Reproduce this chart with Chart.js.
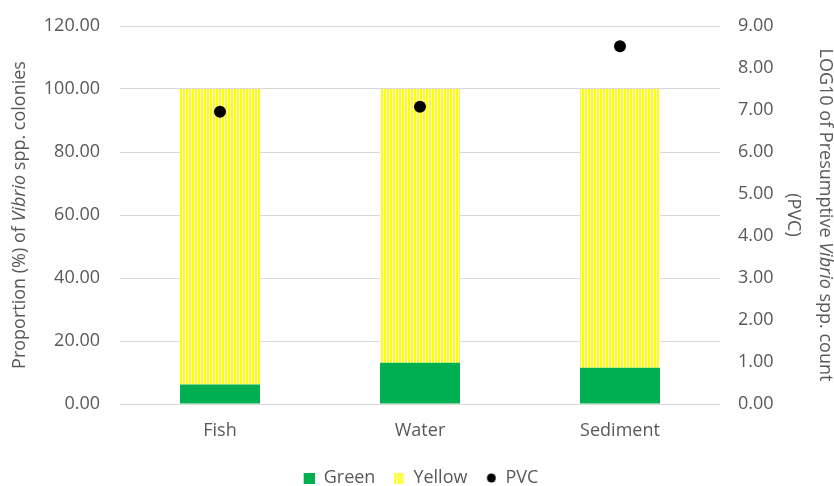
<!DOCTYPE html>
<html>
<head>
<meta charset="utf-8">
<script src="https://cdn.jsdelivr.net/npm/chart.js@4/dist/chart.umd.min.js"></script>
<style>
  html, body { margin: 0; padding: 0; background: #fff; }
  #wrap { width: 834px; height: 486px; }
</style>
</head>
<body>
<div id="wrap"><canvas id="chart"></canvas></div>
<script>
const CATEGORIES = ['Fish', 'Water', 'Sediment'];
const GREEN = [6.2, 13.1, 11.5];
const YELLOW = [93.8, 86.9, 88.5];
const PVC = [6.96, 7.08, 8.52];
const SERIES_NAMES = ['Green', 'Yellow', 'PVC'];

const LEFT_TITLE = [['Proportion (%) of ', false], ['Vibrio', true], [' spp. colonies', false]];
const RIGHT_TITLE_1 = [['LOG10 of Presumptive ', false], ['Vibrio', true], [' spp. count', false]];
const RIGHT_TITLE_2 = [['(PVC)', false]];

const TEXT_COLOR = '#595959';
const FONT = 'Open Sans';

// narrow vertical stripes for the Yellow series
function stripePattern() {
  const c = document.createElement('canvas');
  c.width = 3; c.height = 3;
  const g = c.getContext('2d');
  g.fillStyle = '#ffffff';
  g.fillRect(0, 0, 3, 3);
  g.fillStyle = '#ffff00';
  g.fillRect(0, 0, 2, 3);
  return g.createPattern(c, 'repeat');
}

function icon(w, h, draw) {
  const c = document.createElement('canvas');
  c.width = w; c.height = h;
  draw(c.getContext('2d'));
  return c;
}

const yellowFill = stripePattern();
// icons sit at the right of a 19px box so the gap to the previous item is wider
const legendIcons = [
  icon(19, 11, g => { g.fillStyle = '#00b050'; g.fillRect(8, 0, 11, 11); }),
  icon(19, 11, g => { g.fillStyle = yellowFill; g.fillRect(8, 0, 11, 11); }),
  icon(19, 10, g => { g.fillStyle = '#000'; g.beginPath(); g.arc(14, 5, 4.5, 0, Math.PI * 2); g.fill(); }),
];

function drawRich(ctx, parts, size) {
  let total = 0;
  const widths = parts.map(([t, it]) => {
    ctx.font = (it ? 'italic ' : '') + size + 'px "' + FONT + '"';
    const w = ctx.measureText(t).width;
    total += w;
    return w;
  });
  let x = -total / 2;
  parts.forEach(([t, it], i) => {
    ctx.font = (it ? 'italic ' : '') + size + 'px "' + FONT + '"';
    ctx.fillText(t, x, 0);
    x += widths[i];
  });
}

const axisTitles = {
  id: 'axisTitles',
  afterDraw(chart) {
    const { ctx, chartArea } = chart;
    const cy = (chartArea.top + chartArea.bottom) / 2;
    ctx.save();
    ctx.fillStyle = TEXT_COLOR;
    ctx.textAlign = 'left';
    ctx.textBaseline = 'middle';

    ctx.save();
    ctx.translate(chartArea.left - 100, cy);
    ctx.rotate(-Math.PI / 2);
    drawRich(ctx, LEFT_TITLE, 18);
    ctx.restore();

    ctx.save();
    ctx.translate(chartArea.right + 105, cy);
    ctx.rotate(Math.PI / 2);
    drawRich(ctx, RIGHT_TITLE_1, 18);
    ctx.restore();

    ctx.save();
    ctx.translate(chartArea.right + 73, cy);
    ctx.rotate(Math.PI / 2);
    drawRich(ctx, RIGHT_TITLE_2, 18);
    ctx.restore();

    ctx.restore();
  }
};

// nudge legend down to sit near the bottom edge
const legendNudge = {
  id: 'legendNudge',
  afterLayout(chart) {
    const lg = chart.legend;
    if (!lg) return;
    lg.top += 11; lg.bottom += 11;
    (lg.legendHitBoxes || []).forEach(b => { b.top += 11; });
  }
};

new Chart(document.getElementById('chart'), {
  data: {
    labels: CATEGORIES,
    datasets: [
      { type: 'bar', label: SERIES_NAMES[0], data: GREEN, backgroundColor: '#00b050',
        borderWidth: 0, yAxisID: 'y', order: 2,
        barPercentage: 0.4, categoryPercentage: 1 },
      { type: 'bar', label: SERIES_NAMES[1], data: YELLOW, backgroundColor: yellowFill,
        borderWidth: 0, yAxisID: 'y', order: 2,
        barPercentage: 0.4, categoryPercentage: 1 },
      { type: 'line', label: SERIES_NAMES[2], data: PVC, showLine: false,
        pointRadius: 6, pointHoverRadius: 6, pointBackgroundColor: '#000', pointBorderWidth: 0,
        borderColor: '#000', yAxisID: 'y1', order: 0 },
    ],
  },
  options: {
    responsive: true,
    maintainAspectRatio: false,
    animation: false,
    layout: { padding: { top: 26, bottom: 0, left: 0, right: 0 } },
    scales: {
      x: {
        stacked: true,
        afterFit(s) { s.height = 44; },
        grid: { display: false },
        border: { display: false },
        ticks: { color: TEXT_COLOR, font: { family: FONT, size: 18 }, padding: 8 },
      },
      y: {
        stacked: true,
        position: 'left',
        min: 0, max: 120,
        afterFit(s) { s.width = 120; },
        grid: { color: '#d9d9d9', lineWidth: 1, drawTicks: true, tickLength: 17, tickColor: 'transparent' },
        border: { display: false },
        ticks: {
          stepSize: 20, padding: 3, color: TEXT_COLOR,
          font: { family: FONT, size: 18 },
          callback: v => v.toFixed(2),
        },
      },
      y1: {
        position: 'right',
        min: 0, max: 9,
        afterFit(s) { s.width = 114; },
        grid: { display: true, drawOnChartArea: false, color: 'transparent',
          drawTicks: true, tickLength: 15, tickColor: 'transparent' },
        border: { display: false },
        ticks: {
          stepSize: 1, padding: 3, color: TEXT_COLOR,
          font: { family: FONT, size: 18 },
          callback: v => v.toFixed(2),
        },
      },
    },
    plugins: {
      tooltip: { enabled: false },
      legend: {
        position: 'bottom',
        labels: {
          usePointStyle: true,
          boxWidth: 11, boxHeight: 11,
          pointStyleWidth: 19,
          padding: 10,
          color: TEXT_COLOR,
          font: { family: FONT, size: 18 },
          generateLabels: () => SERIES_NAMES.map((name, i) => ({
            text: name, pointStyle: legendIcons[i], fillStyle: '#000',
            strokeStyle: 'transparent', lineWidth: 0, hidden: false,
            datasetIndex: i, fontColor: TEXT_COLOR,
          })),
        },
      },
    },
  },
  plugins: [axisTitles, legendNudge],
});
</script>
</body>
</html>
